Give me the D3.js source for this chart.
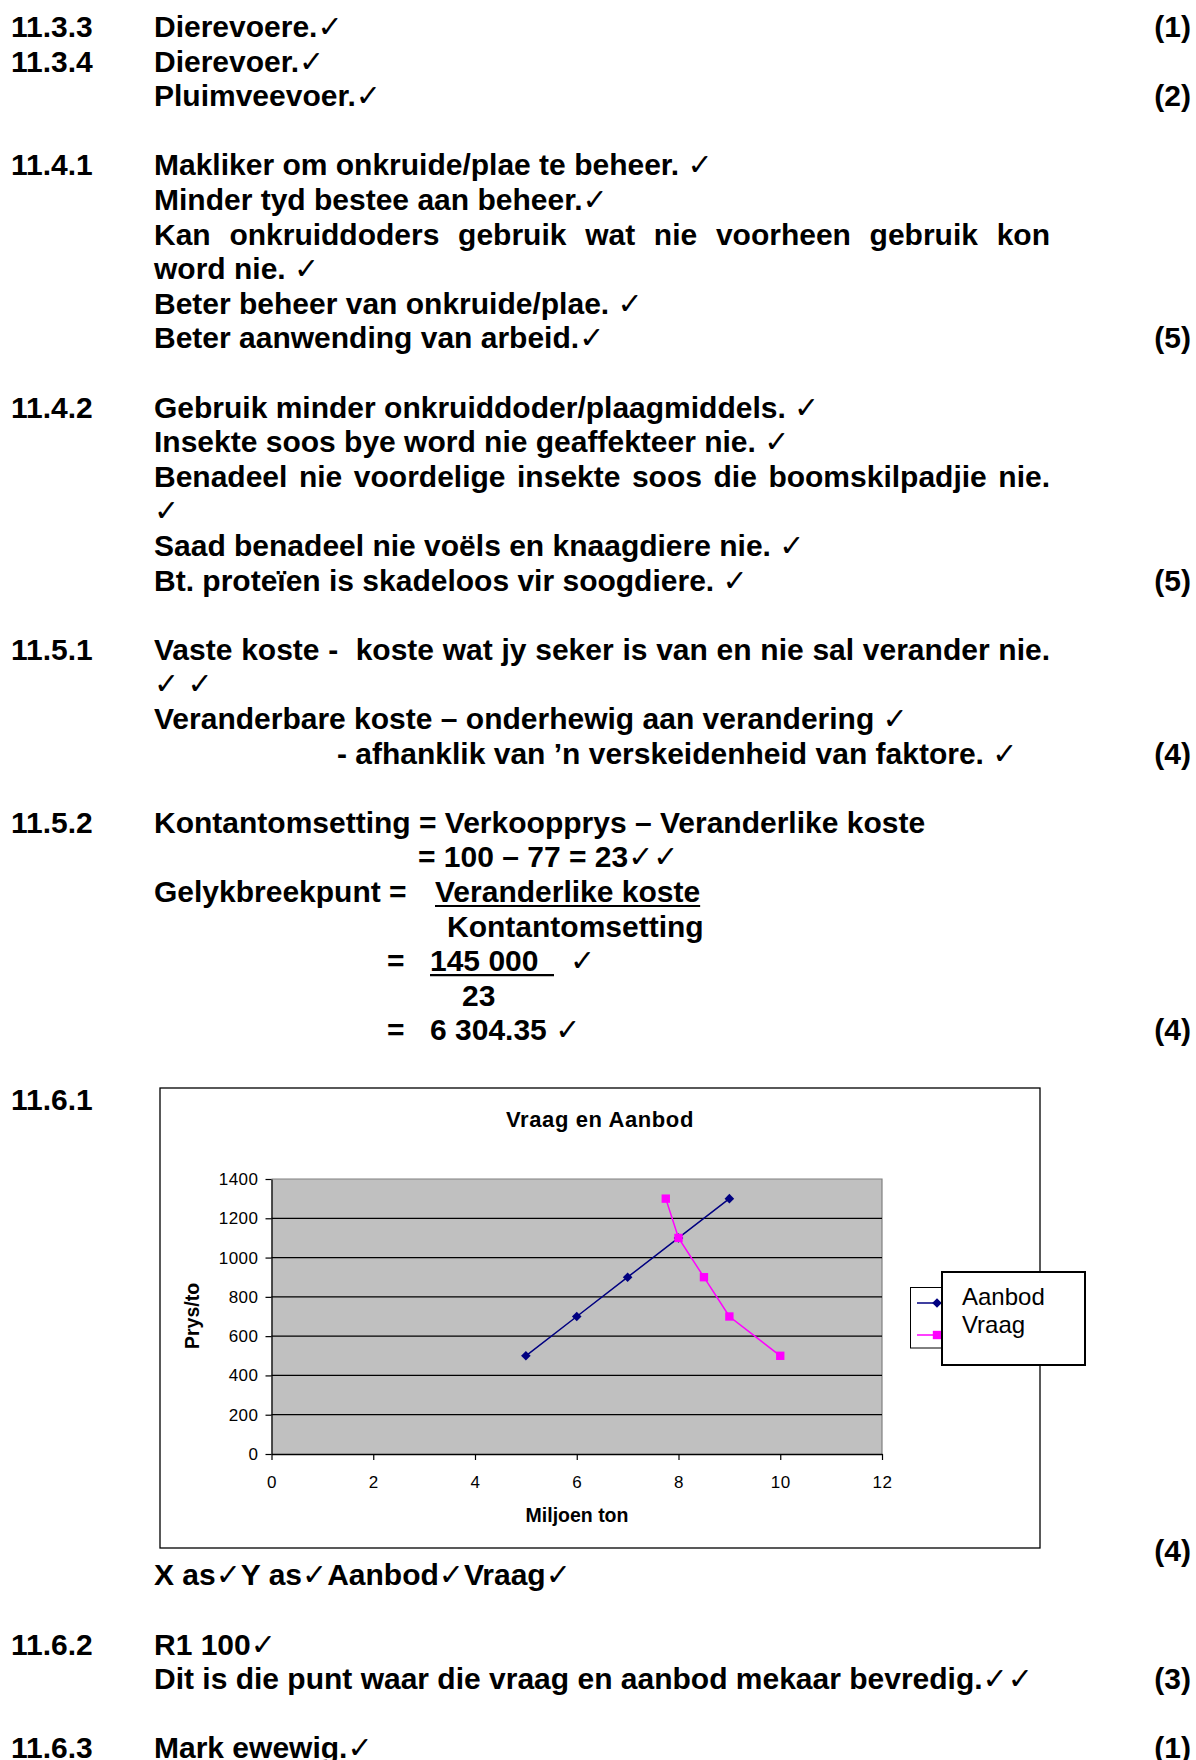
<!DOCTYPE html>
<html>
<head>
<meta charset="utf-8">
<script src="https://cdn.jsdelivr.net/npm/d3@7"></script>
<style>
  body { margin: 0; background: #fff; }
  svg { display: block; }
  text { white-space: pre; }
  .ans { font-family: "Liberation Sans", Arial, sans-serif; font-weight: bold; font-size: 30px; fill: #000; }
  .tick-mark { font-family: "DejaVu Sans", sans-serif; font-weight: bold; font-size: 30px; }
  .chart text { font-family: "Liberation Sans", Arial, sans-serif; fill: #000; }
</style>
</head>
<body>
<svg id="page" width="1196" height="1760"></svg>
<script>
// Data
//---------
const aanbodX = [5, 6, 7, 8, 9];
const aanbodY = [500, 700, 900, 1100, 1300];
const vraagX = [7.75, 8, 8.5, 9, 10];
const vraagY = [1300, 1100, 900, 700, 500];
const xTicks = [0, 2, 4, 6, 8, 10, 12];
const yTicks = [0, 200, 400, 600, 800, 1000, 1200, 1400];
const seriesNames = ["Aanbod", "Vraag"];
const chartTitle = "Vraag en Aanbod";
const xTitle = "Miljoen ton";
const yTitle = "Prys/to";

// Memo text, one entry per line (n = line number on the page)
const memoLines = [
  { n: 0, label: "11.3.3", text: "Dierevoere.✓", mark: "(1)" },
  { n: 1, label: "11.3.4", text: "Dierevoer.✓" },
  { n: 2, text: "Pluimveevoer.✓", mark: "(2)" },
  { n: 4, label: "11.4.1", text: "Makliker om onkruide/plae te beheer. ✓" },
  { n: 5, text: "Minder tyd bestee aan beheer.✓" },
  { n: 6, text: "Kan onkruiddoders gebruik wat nie voorheen gebruik kon", justify: true },
  { n: 7, text: "word nie. ✓" },
  { n: 8, text: "Beter beheer van onkruide/plae. ✓" },
  { n: 9, text: "Beter aanwending van arbeid.✓", mark: "(5)" },
  { n: 11, label: "11.4.2", text: "Gebruik minder onkruiddoder/plaagmiddels. ✓" },
  { n: 12, text: "Insekte soos bye word nie geaffekteer nie. ✓" },
  { n: 13, text: "Benadeel nie voordelige insekte soos die boomskilpadjie nie.", justify: true },
  { n: 14, text: "✓" },
  { n: 15, text: "Saad benadeel nie voëls en knaagdiere nie. ✓" },
  { n: 16, text: "Bt. proteïen is skadeloos vir soogdiere. ✓", mark: "(5)" },
  { n: 18, label: "11.5.1", text: "Vaste koste -  koste wat jy seker is van en nie sal verander nie.", justify: true },
  { n: 19, text: "✓ ✓" },
  { n: 20, text: "Veranderbare koste – onderhewig aan verandering ✓" },
  { n: 21, x: 337, text: "- afhanklik van ’n verskeidenheid van faktore. ✓", mark: "(4)" },
  { n: 23, label: "11.5.2", text: "Kontantomsetting = Verkoopprys – Veranderlike koste" },
  { n: 24, x: 418, text: "= 100 – 77 = 23✓✓" },
  { n: 25, text: "Gelykbreekpunt =" },
  { n: 25, x: 435, text: "Veranderlike koste", underline: true },
  { n: 26, x: 447, text: "Kontantomsetting" },
  { n: 27, x: 387, text: "=" },
  { n: 27, x: 430, text: "145 000", underline: 554 },
  { n: 27, x: 570, text: "✓" },
  { n: 28, x: 462, text: "23" },
  { n: 29, x: 387, text: "=" },
  { n: 29, x: 430, text: "6 304.35 ✓", mark: "(4)" },
  { n: 31, label: "11.6.1" },
  { y: 1585, text: "X as✓Y as✓Aanbod✓Vraag✓" },
  { y: 1561, mark: "(4)" },
  { y: 1654.5, label: "11.6.2", text: "R1 100✓" },
  { y: 1689, text: "Dit is die punt waar die vraag en aanbod mekaar bevredig.✓✓", mark: "(3)" },
  { y: 1758, label: "11.6.3", text: "Mark ewewig.✓", mark: "(1)" }
];

// Layout
//---------
const labelX = 11;
const textX = 154;
const textRight = 1050;
const markRight = 1191;
const firstBase = 37;
const lineStep = 34.6;

const svg = d3.select("#page");
const page = svg.append("g");

//-- writes a line, checkmarks get their own font
function writeRich(g, x, y, str) {
  const t = g.append("text").attr("class", "ans").attr("x", x).attr("y", y);
  str.split(/(✓)/).forEach(function(part) {
    if (!part) return;
    const ts = t.append("tspan").text(part);
    if (part === "✓") ts.attr("class", "tick-mark");
  });
  return t;
}

//-- justified line: spread the words over the column (a double space gives a double gap)
function writeJustified(g, x, y, str, right) {
  const words = str.split(" ");
  const widths = words.map(function(w) {
    if (!w) return 0;
    const tmp = g.append("text").attr("class", "ans").text(w);
    const wd = tmp.node().getComputedTextLength();
    tmp.remove();
    return wd;
  });
  const total = d3.sum(widths);
  const gap = (right - x - total) / (words.length - 1);
  let cx = x;
  words.forEach(function(w, i) {
    if (w) g.append("text").attr("class", "ans").attr("x", cx).attr("y", y).text(w);
    cx += widths[i] + gap;
  });
}

memoLines.forEach(function(l) {
  const y = l.y !== undefined ? l.y : firstBase + l.n * lineStep;
  if (l.label) {
    page.append("text").attr("class", "ans").attr("x", labelX).attr("y", y).text(l.label);
  }
  if (l.text) {
    const x = l.x !== undefined ? l.x : textX;
    if (l.justify) {
      writeJustified(page, x, y, l.text, textRight);
    } else {
      const t = writeRich(page, x, y, l.text);
      if (l.underline) {
        const end = l.underline === true ? x + t.node().getComputedTextLength() : l.underline;
        page.append("line")
          .attr("x1", x).attr("x2", end)
          .attr("y1", y + 4).attr("y2", y + 4)
          .attr("stroke", "#000").attr("stroke-width", 2.2);
      }
    }
  }
  if (l.mark) {
    page.append("text").attr("class", "ans")
      .attr("x", markRight).attr("y", y)
      .attr("text-anchor", "end")
      .text(l.mark);
  }
});

// Chart
//---------
const chart = svg.append("g").attr("class", "chart");

//-- Outer box
chart.append("rect")
  .attr("x", 160).attr("y", 1088)
  .attr("width", 880).attr("height", 460)
  .attr("fill", "#fff")
  .attr("stroke", "#000")
  .attr("stroke-width", 1.3);

const x = d3.scaleLinear().domain([0, 12]).range([271.5, 882]);
const y = d3.scaleLinear().domain([0, 1400]).range([1454, 1179]);

//-- Plot area
chart.append("rect")
  .attr("x", x(0)).attr("y", y(1400))
  .attr("width", x(12) - x(0))
  .attr("height", y(0) - y(1400))
  .attr("fill", "#c0c0c0");

chart.append("path")
  .attr("d", "M" + x(0) + "," + y(1400) + "H" + x(12) + "V" + y(0))
  .attr("fill", "none")
  .attr("stroke", "#808080")
  .attr("stroke-width", 1.2);

//-- Gridlines
chart.append("g").selectAll("line")
  .data(yTicks.filter(function(v) { return v > 0 && v < 1400; }))
  .join("line")
  .attr("x1", x(0)).attr("x2", x(12))
  .attr("y1", function(d) { return y(d); })
  .attr("y2", function(d) { return y(d); })
  .attr("stroke", "#000")
  .attr("stroke-width", 1.2);

//-- Axes
const yAxis = chart.append("g")
  .attr("transform", "translate(" + x(0) + ",0)")
  .call(d3.axisLeft(y).tickValues(yTicks).tickFormat(d3.format("d"))
    .tickSize(6).tickSizeOuter(0).tickPadding(7));

const xAxis = chart.append("g")
  .attr("transform", "translate(0," + y(0) + ")")
  .call(d3.axisBottom(x).tickValues(xTicks).tickFormat(d3.format("d"))
    .tickSize(6).tickSizeOuter(0).tickPadding(16));

[yAxis, xAxis].forEach(function(a) {
  a.select(".domain").attr("stroke", "#000").attr("stroke-width", 1.3);
  a.selectAll(".tick line").attr("stroke", "#000").attr("stroke-width", 1.2);
  a.selectAll(".tick text")
    .attr("fill", "#000")
    .style("font-family", "'Liberation Sans', Arial, sans-serif")
    .style("font-size", "17px")
    .style("letter-spacing", "0.5px");
});

//-- Titles
chart.append("text")
  .attr("x", 600).attr("y", 1127)
  .attr("text-anchor", "middle")
  .attr("font-weight", "bold")
  .attr("font-size", 22)
  .attr("letter-spacing", 0.6)
  .text(chartTitle);

chart.append("text")
  .attr("x", 577).attr("y", 1522)
  .attr("text-anchor", "middle")
  .attr("font-weight", "bold")
  .attr("font-size", 19.5)
  .text(xTitle);

chart.append("text")
  .attr("transform", "translate(199,1316) rotate(-90)")
  .attr("text-anchor", "middle")
  .attr("font-weight", "bold")
  .attr("font-size", 19.5)
  .text(yTitle);

//-- Series
const series = [
  { name: seriesNames[0], xs: aanbodX, ys: aanbodY, color: "#000080", shape: "diamond" },
  { name: seriesNames[1], xs: vraagX, ys: vraagY, color: "#ff00ff", shape: "square" }
];

const line = d3.line()
  .x(function(d) { return x(d[0]); })
  .y(function(d) { return y(d[1]); });

function markerPath(shape) {
  return shape === "diamond"
    ? d3.symbol().type(d3.symbolSquare).size(46)()
    : d3.symbol().type(d3.symbolSquare).size(70)();
}
function markerRot(shape) {
  return shape === "diamond" ? " rotate(45)" : "";
}

series.forEach(function(s) {
  const pts = s.xs.map(function(v, i) { return [v, s.ys[i]]; });
  chart.append("path")
    .datum(pts)
    .attr("d", line)
    .attr("fill", "none")
    .attr("stroke", s.color)
    .attr("stroke-width", 1.5);
  chart.append("g").selectAll("path")
    .data(pts)
    .join("path")
    .attr("d", markerPath(s.shape))
    .attr("transform", function(d) {
      return "translate(" + x(d[0]) + "," + y(d[1]) + ")" + markerRot(s.shape);
    })
    .attr("fill", s.color);
});

//-- Legend: key box sits behind the name box
chart.append("rect")
  .attr("x", 910.5).attr("y", 1287.5)
  .attr("width", 40).attr("height", 60.5)
  .attr("fill", "#fff")
  .attr("stroke", "#000")
  .attr("stroke-width", 1);

series.forEach(function(s, i) {
  const ly = 1303 + i * 32;
  chart.append("line")
    .attr("x1", 917).attr("x2", 942)
    .attr("y1", ly).attr("y2", ly)
    .attr("stroke", s.color)
    .attr("stroke-width", 1.5);
  chart.append("path")
    .attr("d", markerPath(s.shape))
    .attr("transform", "translate(937," + ly + ")" + markerRot(s.shape))
    .attr("fill", s.color);
});

chart.append("rect")
  .attr("x", 942).attr("y", 1272)
  .attr("width", 143).attr("height", 93)
  .attr("fill", "#fff")
  .attr("stroke", "#000")
  .attr("stroke-width", 2);

series.forEach(function(s, i) {
  chart.append("text")
    .attr("x", 962).attr("y", 1305 + i * 28)
    .attr("font-size", 24)
    .text(s.name);
});
</script>
</body>
</html>
